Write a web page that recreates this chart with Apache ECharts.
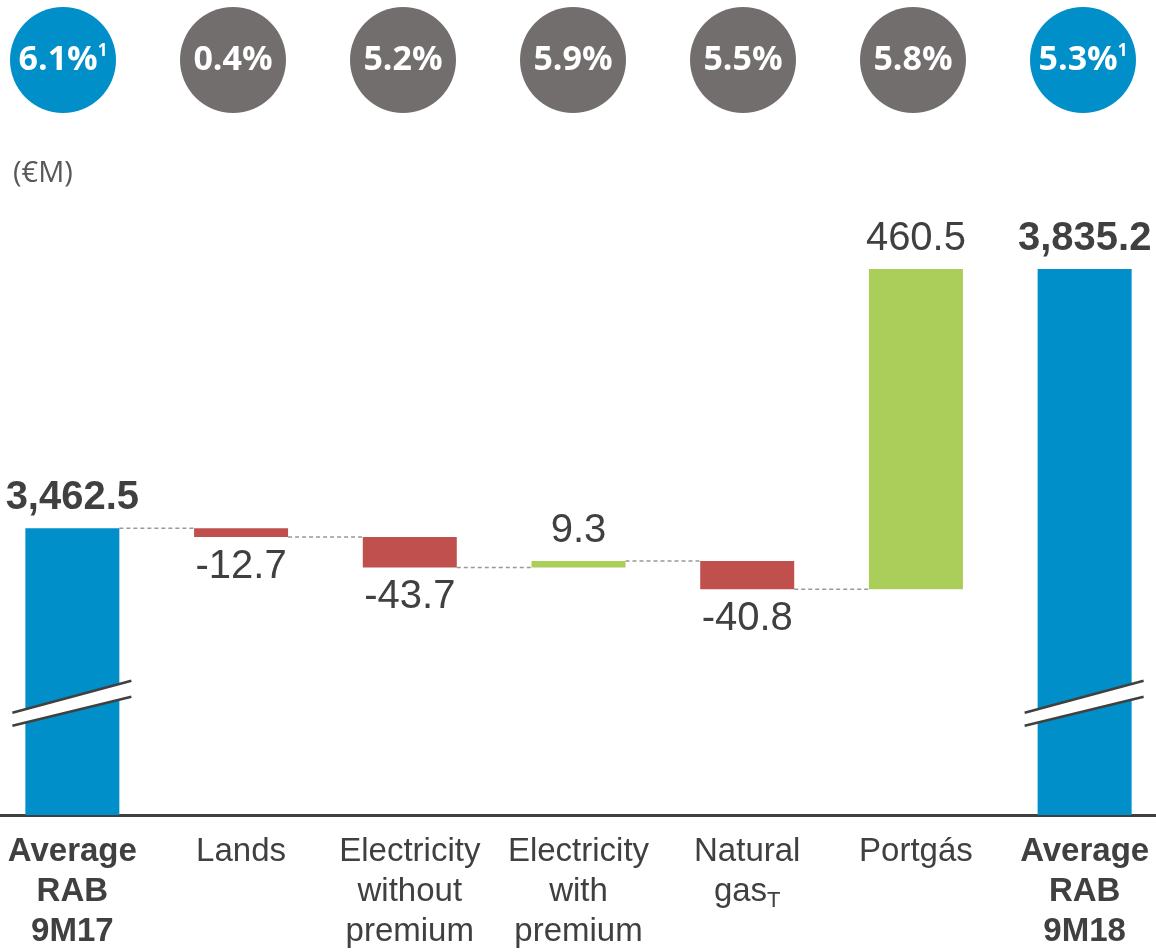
<!DOCTYPE html>
<html>
<head>
<meta charset="utf-8">
<script src="https://cdn.jsdelivr.net/npm/echarts@6/dist/echarts.min.js"></script>
<style>
  html, body { margin: 0; padding: 0; background: #fff; }
  #chart { width: 1156px; height: 952px; }
</style>
</head>
<body>
<div id="chart"></div>
<script>
// data
var categories = ['Average\nRAB\n9M17', 'Lands', 'Electricity\nwithout\npremium', 'Electricity\nwith\npremium', 'Natural\ngas', 'Portgás', 'Average\nRAB\n9M18'];
var categorySubs = ['', '', '', '', 'T', '', ''];
var startValue = 3462.5;
var deltas = [-12.7, -43.7, 9.3, -40.8, 460.5];
var endValue = 3835.2;
var rates = [6.1, 0.4, 5.2, 5.9, 5.5, 5.8, 5.3];
var rateNotes = ['1', '', '', '', '', '', '1'];
var breakValue = 3210;

var BLUE = '#008FC8', RED = '#C0504D', GREEN = '#ABCD5A', GREY = '#726E6D', TXT = '#404040';
var FONT = 'Liberation Sans, Arial, sans-serif';

function fmt(v) {
    return v.toLocaleString('en-US', {minimumFractionDigits: 1, maximumFractionDigits: 1});
}

// waterfall: invisible base + visible piece
var baseData = [0];
var barData = [{
    value: startValue,
    itemStyle: {color: BLUE},
    label: {show: true, position: 'top', fontWeight: 'bold', formatter: fmt(startValue)}
}];
var levels = [startValue];
var running = startValue;
deltas.forEach(function (d) {
    var next = running + d;
    baseData.push(Math.min(running, next));
    barData.push({
        value: Math.abs(d),
        itemStyle: {color: d < 0 ? RED : GREEN},
        label: {show: true, position: d < 0 ? 'bottom' : 'top', formatter: fmt(d)}
    });
    running = next;
    levels.push(running);
});
baseData.push(0);
barData.push({
    value: endValue,
    itemStyle: {color: BLUE},
    label: {show: true, position: 'top', fontWeight: 'bold', formatter: fmt(endValue)}
});

var connectorData = [];
for (var i = 0; i < levels.length; i++) {
    connectorData.push([i, levels[i]]);
}

var chart = echarts.init(document.getElementById('chart'));
var option = {
    backgroundColor: '#fff',
    animation: false,
    title: {
        text: '(€M)',
        left: 8,
        top: 154,
        textStyle: {fontFamily: 'Open Sans', fontWeight: 'normal', fontSize: 29, color: '#595959'}
    },
    grid: [
        {left: -12, right: -13, top: 224, bottom: 137, outerBoundsMode: 'none', containLabel: false},
        {left: -22, right: -12, top: 7, height: 106, outerBoundsMode: 'none', containLabel: false}
    ],
    xAxis: [
        {
            type: 'category',
            gridIndex: 0,
            data: categories,
            axisLine: {lineStyle: {color: TXT, width: 3}},
            axisTick: {show: false},
            axisLabel: {
                margin: 17,
                interval: 0,
                formatter: function (value, index) {
                    var style = (index === 0 || index === categories.length - 1) ? 'b' : 'n';
                    var lines = value.split('\n');
                    return lines.map(function (l, k) {
                        var s = '{' + style + '|' + l + '}';
                        if (k === lines.length - 1 && categorySubs[index]) {
                            s += '{sub|' + categorySubs[index] + '}';
                        }
                        return s;
                    }).join('\n');
                },
                rich: {
                    n: {fontFamily: FONT, fontSize: 33, lineHeight: 40, color: TXT},
                    b: {fontFamily: FONT, fontSize: 33, lineHeight: 40, color: TXT, fontWeight: 'bold'},
                    sub: {fontFamily: FONT, fontSize: 22, lineHeight: 22, color: TXT, verticalAlign: 'bottom'}
                }
            }
        },
        {
            type: 'category',
            gridIndex: 1,
            data: categories,
            show: false
        }
    ],
    yAxis: [
        {type: 'value', gridIndex: 0, min: 3050, max: 3900, show: false, splitLine: {show: false}},
        {type: 'value', gridIndex: 1, min: -1, max: 1, show: false, splitLine: {show: false}}
    ],
    series: [
        {
            type: 'custom',
            xAxisIndex: 0,
            yAxisIndex: 0,
            z: 1,
            silent: true,
            data: connectorData.slice(0, connectorData.length - 1),
            renderItem: function (params, api) {
                var idx = api.value(0), lvl = api.value(1);
                var p1 = api.coord([idx, lvl]);
                var p2 = api.coord([idx + 1, lvl]);
                return {
                    type: 'line',
                    shape: {x1: p1[0] + 47, y1: p1[1], x2: p2[0] - 47, y2: p2[1]},
                    style: {stroke: '#999', lineWidth: 1.5, lineDash: [4, 3]}
                };
            }
        },
        {
            type: 'bar',
            stack: 'wf',
            barWidth: 94,
            itemStyle: {color: 'rgba(0,0,0,0)'},
            emphasis: {disabled: true},
            data: baseData
        },
        {
            type: 'bar',
            stack: 'wf',
            barWidth: 94,
            z: 3,
            label: {fontFamily: FONT, fontSize: 40, color: TXT, distance: 10},
            data: barData
        },
        {
            type: 'custom',
            xAxisIndex: 0,
            yAxisIndex: 0,
            z: 5,
            silent: true,
            data: [[0, breakValue], [categories.length - 1, breakValue]],
            renderItem: function (params, api) {
                var c = api.coord([api.value(0), api.value(1)]);
                var x = c[0], y = c[1];
                return {
                    type: 'group',
                    children: [
                        {
                            type: 'polygon',
                            shape: {points: [[x - 60, y + 9], [x + 59, y - 23], [x + 59, y - 7], [x - 60, y + 22]]},
                            style: {fill: '#fff'}
                        },
                        {
                            type: 'line',
                            shape: {x1: x - 60, y1: y + 9, x2: x + 59, y2: y - 23},
                            style: {stroke: TXT, lineWidth: 2.5}
                        },
                        {
                            type: 'line',
                            shape: {x1: x - 60, y1: y + 22, x2: x + 59, y2: y - 7},
                            style: {stroke: TXT, lineWidth: 2.5}
                        }
                    ]
                };
            }
        },
        {
            type: 'scatter',
            xAxisIndex: 1,
            yAxisIndex: 1,
            symbol: 'circle',
            symbolSize: 106,
            silent: true,
            itemStyle: {opacity: 1},
            data: rates.map(function (r, i) {
                var note = rateNotes[i] ? '{sup|' + rateNotes[i] + '}' : '';
                return {
                    value: [i, 0],
                    itemStyle: {color: (i === 0 || i === rates.length - 1) ? BLUE : GREY, opacity: 1},
                    label: {
                        show: true,
                        position: 'inside',
                        formatter: '{m|' + r.toFixed(1) + '%}' + note
                    }
                };
            }),
            label: {
                rich: {
                    m: {fontFamily: 'Open Sans', fontWeight: 'bold', fontSize: 34, lineHeight: 34, color: '#fff'},
                    sup: {fontFamily: 'Open Sans', fontWeight: 'bold', fontSize: 17, lineHeight: 17, color: '#fff', verticalAlign: 'top'}
                }
            }
        }
    ]
};
chart.setOption(option);
</script>
</body>
</html>
